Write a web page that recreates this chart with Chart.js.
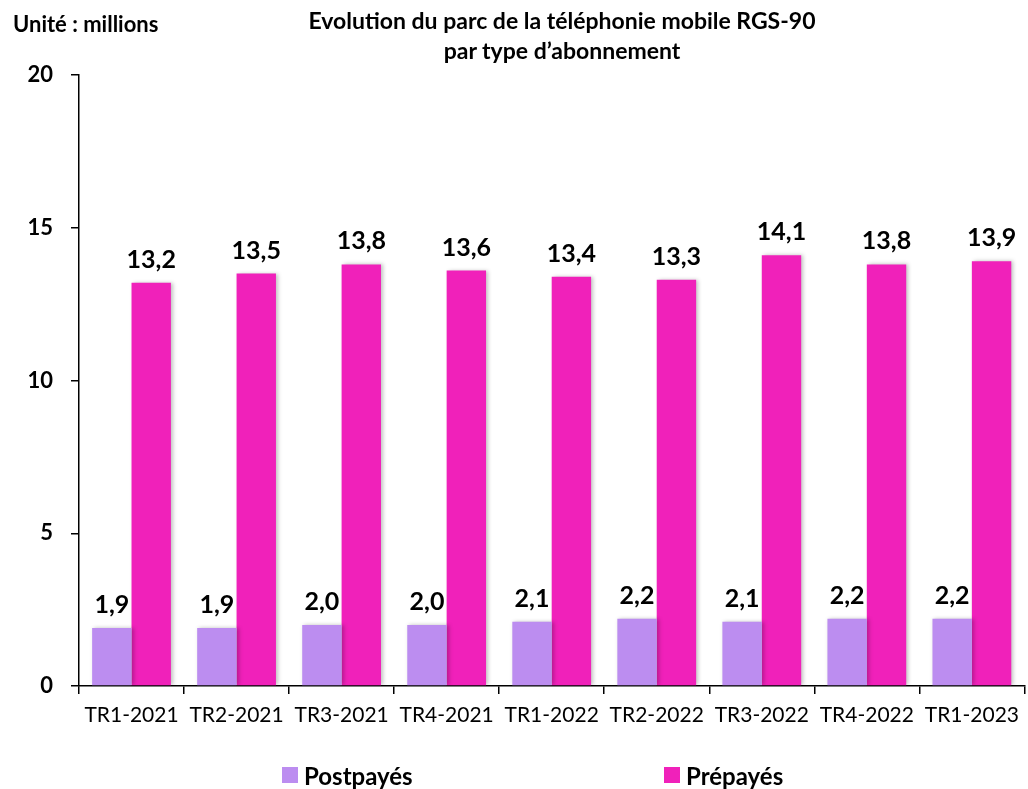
<!DOCTYPE html>
<html lang="fr">
<head>
<meta charset="utf-8">
<title>Parc de la téléphonie mobile</title>
<script src="https://cdn.jsdelivr.net/npm/chart.js@4"></script>
<style>
    html, body { margin: 0; padding: 0; background: #fff; overflow: hidden; }
    body { width: 1028px; height: 789px; position: relative; font-family: Lato, "Open Sans", sans-serif; color: #000; }
    #chart-wrap { position: absolute; left: 0; top: 0; width: 1028px; height: 789px; }
    .unit { position: absolute; left: 13px; top: 10px; font-weight: bold; font-size: 22px; line-height: 28px; }
    .title { position: absolute; left: 212px; width: 700px; top: 5px; text-align: center; font-weight: bold; font-size: 23px; line-height: 30px; }
    .legend-item { position: absolute; top: 761px; height: 28px; display: flex; align-items: center; font-weight: bold; font-size: 24px; }
    .legend-item span.box { display: inline-block; width: 16px; height: 16px; margin-right: 6px; }
</style>
</head>
<body>
<div id="chart-wrap"><canvas id="mobileChart" width="1028" height="789"></canvas></div>
<div class="unit">Unité : millions</div>
<div class="title">Evolution du parc de la téléphonie mobile RGS-90<br>par type d’abonnement</div>
<div class="legend-item" style="left:282px"><span class="box" style="background:#BC8DF0"></span>Postpayés</div>
<div class="legend-item" style="left:664px"><span class="box" style="background:#F021BA"></span>Prépayés</div>

<script>
// Quarters and subscriber counts (millions)
const quarters = ['TR1-2021', 'TR2-2021', 'TR3-2021', 'TR4-2021', 'TR1-2022', 'TR2-2022', 'TR3-2022', 'TR4-2022', 'TR1-2023'];
const postpaid = [1.9, 1.9, 2.0, 2.0, 2.1, 2.2, 2.1, 2.2, 2.2];
const prepaid = [13.2, 13.5, 13.8, 13.6, 13.4, 13.3, 14.1, 13.8, 13.9];
const yTicks = [0, 5, 10, 15, 20];

const fontFamily = 'Lato, "Open Sans", sans-serif';

// Soft shadow on the right side of the bars
const barShadow = {
    id: 'barShadow',
    beforeDatasetsDraw(chart) {
        const ctx = chart.ctx;
        ctx.save();
        ctx.shadowColor = 'rgba(0, 0, 0, 0.25)';
        ctx.shadowBlur = 4;
        ctx.shadowOffsetX = 2;
        ctx.shadowOffsetY = 0;
    },
    afterDatasetsDraw(chart) {
        chart.ctx.restore();
    }
};

// Value labels above each bar, French decimal comma
const valueLabels = {
    id: 'valueLabels',
    afterDatasetsDraw(chart) {
        const ctx = chart.ctx;
        ctx.save();
        ctx.fillStyle = '#000';
        ctx.font = `bold 25px ${fontFamily}`;
        ctx.textAlign = 'center';
        ctx.textBaseline = 'alphabetic';
        chart.data.datasets.forEach((ds, i) => {
            chart.getDatasetMeta(i).data.forEach((bar, j) => {
                const text = ds.data[j].toFixed(1).replace('.', ',');
                ctx.fillText(text, bar.x, bar.y - 15);
            });
        });
        ctx.restore();
    }
};

const ctx = document.getElementById('mobileChart').getContext('2d');
const chart = new Chart(ctx, {
    type: 'bar',
    data: {
        labels: quarters,
        datasets: [
            {
                label: 'Postpayés',
                data: postpaid,
                backgroundColor: '#BC8DF0',
                categoryPercentage: 0.75,
                barPercentage: 1.0
            },
            {
                label: 'Prépayés',
                data: prepaid,
                backgroundColor: '#F021BA',
                categoryPercentage: 0.75,
                barPercentage: 1.0
            }
        ]
    },
    options: {
        responsive: false,
        animation: false,
        layout: {
            padding: { top: 75, right: 0, bottom: 0, left: 0 }
        },
        scales: {
            x: {
                grid: {
                    display: true,
                    drawOnChartArea: false,
                    offset: true,
                    tickLength: 8,
                    color: '#000',
                    lineWidth: 1.5
                },
                border: { color: '#000', width: 1.5 },
                ticks: {
                    color: '#000',
                    padding: 9,
                    maxRotation: 0,
                    autoSkip: false,
                    font: { family: fontFamily, size: 21 }
                },
                afterFit(scale) {
                    scale.height = 103;
                }
            },
            y: {
                min: 0,
                max: 20,
                afterBuildTicks(scale) {
                    scale.ticks = yTicks.map(v => ({ value: v }));
                },
                grid: {
                    display: true,
                    drawOnChartArea: false,
                    tickLength: 8,
                    color: '#000',
                    lineWidth: 1.5
                },
                border: { color: '#000', width: 1.5 },
                ticks: {
                    color: '#000',
                    padding: 18,
                    font: { family: fontFamily, size: 22, weight: 'bold' }
                },
                afterFit(scale) {
                    scale.width = 79;
                }
            }
        },
        plugins: {
            legend: { display: false },
            title: { display: false },
            tooltip: { enabled: false }
        }
    },
    plugins: [barShadow, valueLabels]
});
</script>
</body>
</html>
